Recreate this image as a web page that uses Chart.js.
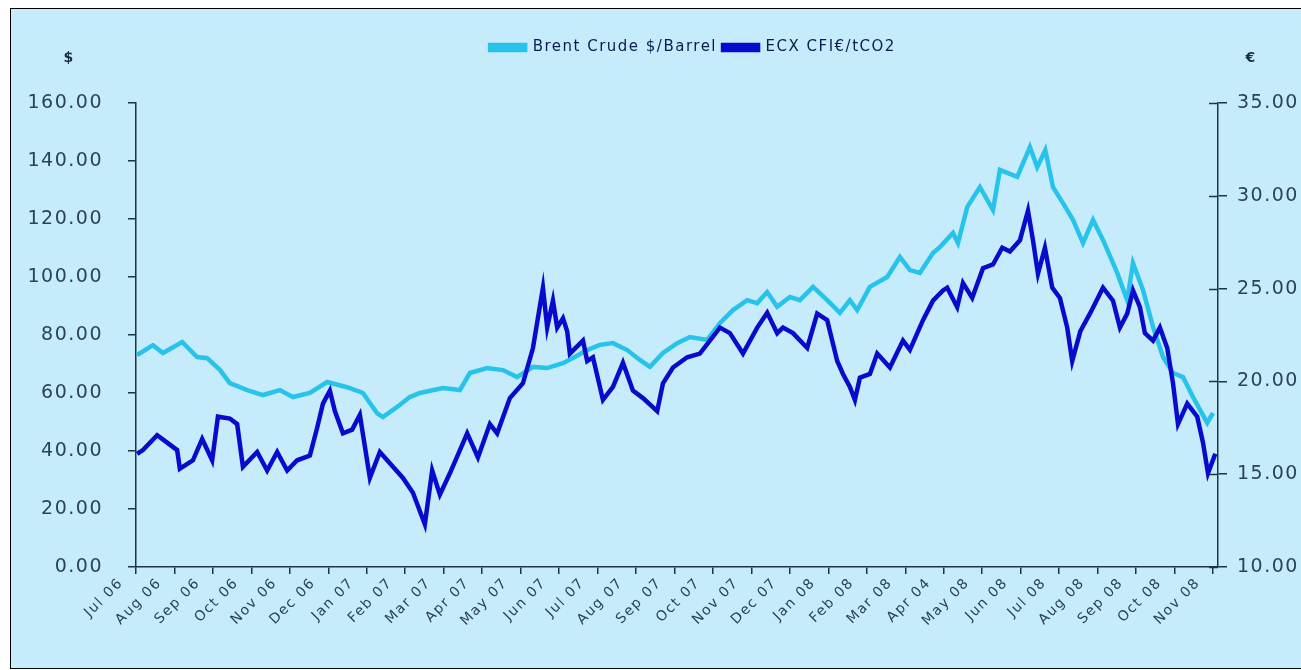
<!DOCTYPE html>
<html>
<head>
<meta charset="utf-8">
<script src="https://cdn.jsdelivr.net/npm/chart.js@4.4.1/dist/chart.umd.min.js"></script>
<style>
    html, body { margin: 0; padding: 0; background: #ffffff; overflow: hidden; }
    #frame {
        position: absolute; left: 10px; top: 8px; width: 1320px; height: 659px;
        background: #c6ecfb; border: 1px solid #000000;
    }
    #chart { position: absolute; left: 0; top: 0; }
</style>
</head>
<body>
<div id="frame"></div>
<canvas id="chart" width="1386" height="670"></canvas>
<script>
// Month tick labels (0 = Jul 06)
const monthLabels = ['Jul 06', 'Aug 06', 'Sep 06', 'Oct 06', 'Nov 06', 'Dec 06',
    'Jan 07', 'Feb 07', 'Mar 07', 'Apr 07', 'May 07', 'Jun 07', 'Jul 07', 'Aug 07',
    'Sep 07', 'Oct 07', 'Nov 07', 'Dec 07', 'Jan 08', 'Feb 08', 'Mar 08', 'Apr 04',
    'May 08', 'Jun 08', 'Jul 08', 'Aug 08', 'Sep 08', 'Oct 08', 'Nov 08'];

// Brent Crude, $/barrel (x = months since Jul 06)
const brentMonths = [0.03, 0.44, 0.70, 1.20, 1.59, 1.85, 2.18, 2.44, 2.89, 3.30, 3.74, 4.08,
    4.52, 4.97, 5.49, 5.90, 6.27, 6.42, 6.79, 7.12, 7.38, 7.98, 8.42, 8.68, 9.13, 9.54, 9.91,
    10.32, 10.69, 11.10, 11.36, 11.73, 12.06, 12.40, 12.77, 13.10, 13.36, 13.70, 14.07, 14.40,
    14.85, 15.18, 15.52, 15.89, 16.15, 16.41, 16.67, 17.00, 17.26, 17.60, 17.97, 18.30, 18.56,
    18.75, 19.08, 19.53, 19.86, 20.12, 20.38, 20.72, 20.90, 21.24, 21.37, 21.61, 21.94, 22.28,
    22.46, 22.91, 23.24, 23.43, 23.64, 23.84, 24.10, 24.36, 24.62, 24.88, 25.14, 25.51, 25.77,
    25.92, 26.18, 26.44, 26.70, 26.96, 27.22, 27.48, 27.85, 28.00];
const brentPrices = [73.1, 76.5, 73.8, 77.6, 72.4, 72.0, 68.0, 63.4, 61.0, 59.3, 61.0, 58.6,
    60.0, 63.8, 62.0, 60.0, 53.0, 51.7, 55.2, 58.6, 60.0, 61.7, 61.0, 66.9, 68.6, 67.9, 65.5,
    69.0, 68.6, 70.3, 72.1, 74.8, 76.6, 77.2, 74.8, 71.4, 69.0, 73.8, 77.2, 79.3,
    78.3, 84.1, 88.6, 92.0, 91.0, 94.8, 89.7, 93.1, 92.0, 96.6, 92.0, 87.6, 92.0,
    88.6, 96.6, 100.0, 106.9, 102.4, 101.4, 108.3, 110.3, 115.2, 111.7, 124.1, 131.0, 123.1,
    136.9, 134.5, 144.8, 137.9, 143.8, 131.0, 125.5, 119.7, 111.7, 119.7, 112.8, 101.4, 92.0,
    104.8, 95.5, 82.8, 72.4, 66.9, 65.5, 58.6, 49.7, 53.1];

// ECX CFI, EUR/t CO2
const ecxMonths = [0.03, 0.18, 0.55, 0.81, 1.07, 1.14, 1.48, 1.72, 1.98, 2.13, 2.44, 2.63, 2.78,
    3.15, 3.41, 3.67, 3.93, 4.19, 4.52, 4.71, 4.86, 5.04, 5.17, 5.38, 5.62, 5.82, 6.08, 6.34,
    6.68, 6.94, 7.20, 7.51, 7.70, 7.90, 8.16, 8.61, 8.89, 9.20, 9.39, 9.72, 10.06, 10.32, 10.58,
    10.69, 10.84, 10.95, 11.10, 11.21, 11.28, 11.62, 11.73, 11.88, 12.14, 12.40, 12.66, 12.92,
    13.18, 13.55, 13.70, 13.96, 14.33, 14.66, 15.18, 15.44, 15.78, 16.15, 16.41, 16.67, 16.82,
    17.08, 17.45, 17.71, 17.97, 18.23, 18.38, 18.56, 18.69, 18.82, 19.08, 19.27, 19.60, 19.94,
    20.12, 20.46, 20.72, 20.98, 21.09, 21.35, 21.50, 21.74, 22.02, 22.28, 22.52, 22.72, 22.98,
    23.19, 23.32, 23.45, 23.63, 23.82, 24.02, 24.21, 24.34, 24.55, 24.80, 25.14, 25.40, 25.58,
    25.77, 25.92, 26.10, 26.23, 26.44, 26.62, 26.81, 26.96, 27.09, 27.33, 27.59, 27.74, 27.87,
    28.06];
const ecxPrices = [16.1, 16.3, 17.1, 16.7, 16.3, 15.3, 15.75, 16.9, 15.75, 18.1, 18.0, 17.7, 15.4,
    16.2, 15.2, 16.2, 15.2, 15.75, 16.0, 17.5, 18.8, 19.5, 18.4, 17.2, 17.4, 18.2, 14.8, 16.2,
    15.4, 14.8, 14.0, 12.3, 15.2, 13.9, 15.05, 17.2, 15.9, 17.7, 17.2, 19.1, 19.9, 21.8, 25.05,
    22.9, 24.35, 22.9, 23.4, 22.7, 21.5, 22.2, 21.1, 21.3, 19.0, 19.7, 21.0, 19.5,
    19.1, 18.4, 19.9, 20.75, 21.3, 21.5, 22.9, 22.6, 21.5, 22.9, 23.7, 22.6, 22.9,
    22.6, 21.8, 23.65, 23.3, 21.1, 20.4, 19.7, 19.0, 20.2, 20.4, 21.5, 20.75, 22.2,
    21.7, 23.3, 24.35, 24.9, 25.05, 24.0, 25.3, 24.5, 26.1, 26.3, 27.2, 27.0, 27.6,
    29.2, 27.6, 25.8, 27.2, 25.05, 24.5, 22.9, 21.1, 22.7, 23.65, 25.05, 24.35, 22.9,
    23.65, 24.9, 24.0, 22.6, 22.2, 22.9, 21.8, 19.9, 17.7, 18.8, 18.1, 16.7, 15.05,
    16.1];

const axisColor = '#1d3442';
const tickColor = '#2c4452';

// widen canvas text a little, add axis unit labels and the inner half of the right ticks
const extrasPlugin = {
    id: 'extras',
    beforeUpdate(chart) { chart.ctx.letterSpacing = '1.5px'; },
    beforeDraw(chart) { chart.ctx.letterSpacing = '1.5px'; },
    afterDraw(chart) {
        const ctx = chart.ctx;
        const left = chart.scales.y;
        const right = chart.scales.y2;
        ctx.save();
        ctx.strokeStyle = axisColor;
        ctx.lineWidth = 1.5;
        ctx.beginPath();
        right.ticks.forEach((t) => {
            const y = Math.round(right.getPixelForValue(t.value)) + 0.5;
            ctx.moveTo(right.left - 9, y);
            ctx.lineTo(right.left, y);
        });
        ctx.stroke();
        ctx.fillStyle = '#1a2a3a';
        ctx.font = 'bold 14px "DejaVu Sans"';
        ctx.textAlign = 'center';
        ctx.textBaseline = 'middle';
        ctx.fillText('$', left.left + 69, 58);
        ctx.fillText('€', right.left + 33, 58);
        ctx.restore();
    }
};

const ctx = document.getElementById('chart');
new Chart(ctx, {
    type: 'line',
    data: {
        datasets: [
            {
                label: 'Brent Crude $/Barrel',
                data: brentMonths.map((m, i) => ({ x: m, y: brentPrices[i] })),
                borderColor: '#27c3ea',
                backgroundColor: '#27c3ea',
                borderWidth: 4.5,
                pointRadius: 0,
                tension: 0,
                yAxisID: 'y',
                order: 1
            },
            {
                label: 'ECX CFI€/tCO2',
                data: ecxMonths.map((m, i) => ({ x: m, y: ecxPrices[i] })),
                borderColor: '#0a0acd',
                backgroundColor: '#0a0acd',
                borderWidth: 4.5,
                pointRadius: 0,
                tension: 0,
                yAxisID: 'y2',
                order: 0
            }
        ]
    },
    options: {
        responsive: false,
        animation: false,
        layout: { padding: { top: 34, left: 0, right: 0, bottom: 0 } },
        plugins: {
            legend: {
                position: 'top',
                labels: {
                    boxWidth: 35,
                    boxHeight: 5,
                    padding: 6,
                    color: '#0c1c4e',
                    font: { family: 'DejaVu Sans', size: 15 },
                    sort: (a, b) => a.datasetIndex - b.datasetIndex
                }
            },
            subtitle: {
                display: true,
                text: ' ',
                weight: 500,
                padding: { top: 0, bottom: 26 },
                font: { size: 10 }
            },
            tooltip: { enabled: false }
        },
        scales: {
            x: {
                type: 'linear',
                min: 0,
                max: 28.13,
                afterBuildTicks: (scale) => {
                    scale.ticks = monthLabels.map((_, i) => ({ value: i }));
                },
                afterFit: (scale) => { scale.height = 103; },
                ticks: {
                    callback: (v) => monthLabels[v],
                    minRotation: 45,
                    maxRotation: 45,
                    autoSkip: false,
                    labelOffset: -15,
                    padding: 1,
                    color: tickColor,
                    font: { family: 'DejaVu Sans', size: 14 }
                },
                grid: { drawOnChartArea: false, tickLength: 7, color: axisColor, lineWidth: 1.5 },
                border: { color: axisColor, width: 1.5 }
            },
            y: {
                position: 'left',
                min: 0,
                max: 160,
                afterFit: (scale) => { scale.width = 136; },
                ticks: {
                    stepSize: 20,
                    callback: (v) => v.toFixed(2),
                    padding: 25,
                    color: tickColor,
                    font: { family: 'DejaVu Sans', size: 19 }
                },
                grid: { drawOnChartArea: false, tickLength: 8, color: axisColor, lineWidth: 1.5 },
                border: { color: axisColor, width: 1.5 }
            },
            y2: {
                position: 'right',
                min: 10,
                max: 35,
                afterFit: (scale) => { scale.width = 168; },
                ticks: {
                    stepSize: 5,
                    callback: (v) => v.toFixed(2),
                    padding: 10,
                    color: tickColor,
                    font: { family: 'DejaVu Sans', size: 19 }
                },
                grid: { drawOnChartArea: false, tickLength: 9, color: axisColor, lineWidth: 1.5 },
                border: { color: axisColor, width: 1.5 }
            }
        }
    },
    plugins: [extrasPlugin]
});
</script>
</body>
</html>
